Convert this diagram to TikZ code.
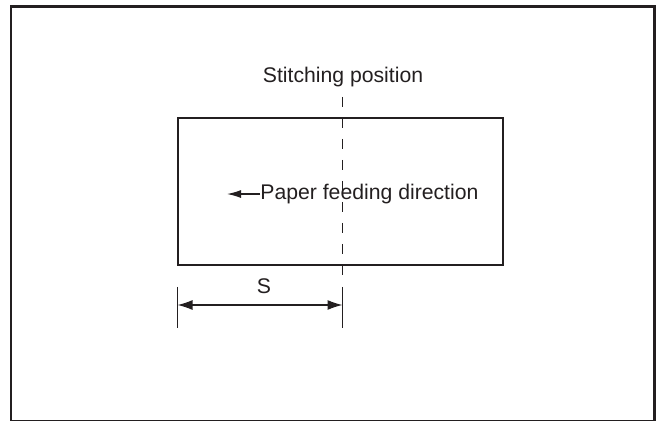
\documentclass[tikz,border=0pt]{standalone}
\usepackage{fontspec}
\setmainfont{Liberation Sans}
\usetikzlibrary{arrows, arrows.meta, positioning, calc}
\definecolor{ink}{RGB}{35, 31, 32}

\begin{document}
\begin{tikzpicture}[x=0.5pt, y=-0.5pt, font=\fontsize{10.6}{12}\selectfont, color=ink]
    \useasboundingbox (0, 0) rectangle (662, 421);
    % outer frame
    \draw[line width=1.35pt] (11, 6.5) rectangle (654.5, 421.5);
    % sheet of paper
    \draw[line width=0.7pt] (178, 118) rectangle (503, 265);
    \node[anchor=base] (stitch) at (343, 82.7) {Stitching position};
    \node[anchor=base west, inner sep=0] (feed) at (260, 199.5) {Paper feeding direction};
    \node[anchor=base] (dimS) at (264, 293.3) {S};
    % stitching line
    \coordinate (stitchtop) at (342.5, 97);
    \coordinate (stitchbot) at (342.5, 277);
    \draw[line width=0.6pt, dash pattern=on 5pt off 5.5pt] (stitchtop) -- (stitchbot);
    % feeding direction
    \coordinate (feedtip) at ($(feed.west) + (-33, 0)$);
    \draw[line width=0.6pt, -{Latex[length=7pt, width=4pt]}] (feed.west) -- (feedtip);
    % dimension S
    \coordinate (extL) at (177.5, 287);
    \coordinate (extR) at (342.5, 287);
    \draw[line width=0.6pt] (extL) -- ++(0, 41);
    \draw[line width=0.6pt] (extR) -- ++(0, 41);
    \draw[line width=0.6pt, {Latex[length=7.5pt, width=5pt]}-{Latex[length=7.5pt, width=5pt]}] ($(extL) + (0, 18)$) -- ($(extR) + (0, 18)$);
\end{tikzpicture}
\end{document}
